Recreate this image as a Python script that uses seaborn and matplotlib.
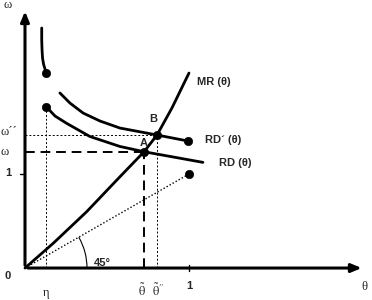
import numpy as np
import pandas as pd
import matplotlib
matplotlib.use("Agg")
import matplotlib.pyplot as plt
from matplotlib.patches import Arc
import seaborn as sns

# curves (theta, omega)
mr_theta = [0.0, 0.172, 0.376, 0.579, 0.726, 0.805, 0.896, 1.0]
mr_omega = [0.0, 0.263, 0.599, 0.971, 1.237, 1.415, 1.702, 2.074]

rd_theta = [0.131, 0.183, 0.256, 0.396, 0.579, 0.726, 1.085]
rd_omega = [1.713, 1.617, 1.537, 1.399, 1.293, 1.237, 1.124]

rdp_theta = [0.213, 0.274, 0.354, 0.457, 0.579, 0.805, 0.994]
rdp_omega = [1.862, 1.755, 1.649, 1.564, 1.489, 1.415, 1.351]

top_theta = [0.102, 0.102, 0.104, 0.107, 0.113, 0.122, 0.128]
top_omega = [2.553, 2.426, 2.319, 2.234, 2.170, 2.117, 2.074]

dot_theta = [0.128, 0.131, 0.994, 1.0, 0.726, 0.805]
dot_omega = [2.074, 1.713, 1.351, 1.0, 1.237, 1.415]

eta = 0.131
pt_a = (0.726, 1.237)
pt_b = (0.805, 1.415)

sns.set_style("white")
plt.rcParams["mathtext.fontset"] = "stix"
fig = plt.figure(figsize=(3.72, 3.0), dpi=100)
ax = fig.add_axes([0, 0, 1, 1])
ax.set_xlim(-0.1524, 2.116)
ax.set_ylim(-0.340, 2.851)
ax.axis("off")

# axes with arrows
ax.annotate("", xy=(2.07, 0), xytext=(0, 0),
            arrowprops=dict(arrowstyle="-|>,head_width=0.25,head_length=0.6", lw=2.2, color="black"))
ax.annotate("", xy=(0, 2.76), xytext=(0, 0),
            arrowprops=dict(arrowstyle="-|>,head_width=0.25,head_length=0.6", lw=2.2, color="black"))
# small ticks at 1
ax.plot([1, 1], [-0.03, 0.03], lw=1.0, color="black")
ax.plot([-0.03, 0.0], [1, 1], lw=1.0, color="black")

# guide lines
ax.plot([eta, eta], [0, rd_omega[0]], ls=(0, (2, 2)), lw=0.7, color="black")
ax.plot([0, pt_b[0]], [pt_b[1], pt_b[1]], ls=(0, (2, 2)), lw=0.7, color="black")
ax.plot([pt_b[0], pt_b[0]], [0, pt_b[1]], ls=(0, (2, 2)), lw=0.7, color="black")
ax.plot([0, pt_a[0]], [pt_a[1], pt_a[1]], ls=(0, (5, 3)), lw=1.4, color="black")
ax.plot([pt_a[0], pt_a[0]], [0, pt_a[1]], ls=(0, (5, 3)), lw=1.4, color="black")
ax.plot([0, 1], [0, 1], ls=(0, (1, 1.5)), lw=1.0, color="black")

# curves
for xs, ys in [(mr_theta, mr_omega), (rd_theta, rd_omega),
               (rdp_theta, rdp_omega), (top_theta, top_omega)]:
    sns.lineplot(x=xs, y=ys, sort=False, ax=ax, color="black", lw=2.0,
                 estimator=None)

sns.scatterplot(x=dot_theta, y=dot_omega, ax=ax, color="black", s=36,
                edgecolor="black", zorder=5)

# 45 degree arc (circular on screen)
ax.add_patch(Arc((0, 0), 2 * 0.378, 2 * 0.378 * 164 / 94, theta1=0,
                 theta2=45, lw=0.8, color="black"))

serif = dict(family="Liberation Serif", fontsize=9)
bold = dict(family="Liberation Sans", fontsize=8, fontweight="bold")

ax.text(-0.13, 2.77, "ω", **serif)
ax.text(-0.15, 1.42, "ω´´", **serif)
ax.text(-0.15, 1.20, "ω", **serif)
ax.text(-0.12, 0.98, "1", **bold)
ax.text(-0.125, -0.12, "0", **bold)
ax.text(eta, -0.30, "η", ha="center", **serif)
ax.text(0.712, -0.30, r"$\tilde{\mathrm{\theta}}$", ha="center", fontsize=9)
ax.text(0.815, -0.30, r"$\tilde{\mathrm{\theta}}''$", ha="center", fontsize=9)
ax.text(1.0, -0.22, "1", ha="center", **bold)
ax.text(2.07, -0.23, "θ", ha="center", **serif)

ax.text(1.05, 1.95, "MR (θ)", **bold)
ax.text(0.76, 1.55, "B", **bold)
ax.text(0.70, 1.30, "A", **bold)
ax.text(1.10, 1.33, "RD´ (θ)", **bold)
ax.text(1.18, 1.09, "RD (θ)", **bold)
ax.text(0.42, 0.02, "45°", **bold)

fig.savefig("out.png", dpi=100)
